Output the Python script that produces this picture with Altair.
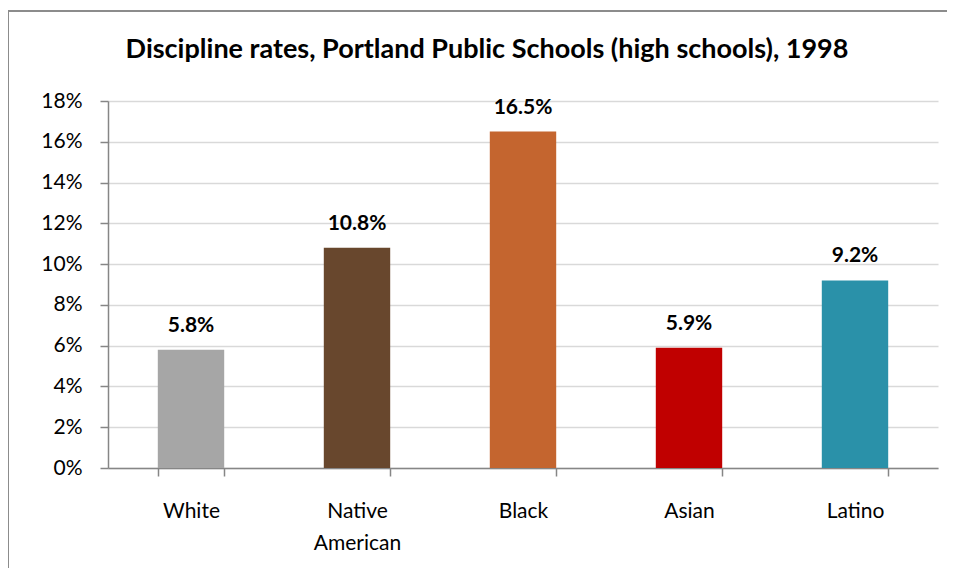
import altair as alt
import pandas as pd

groups = ["White", "Native American", "Black", "Asian", "Latino"]
rates = [0.058, 0.108, 0.165, 0.059, 0.092]
labels = ["5.8%", "10.8%", "16.5%", "5.9%", "9.2%"]
colors = ["#A6A6A6", "#68472D", "#C4652F", "#C00000", "#2A91A9"]
title_text = "Discipline rates, Portland Public Schools (high schools), 1998"

df = pd.DataFrame({"group": groups, "rate": rates, "label": labels})

FONT = "Lato"
W, H = 830, 367
PAD_R = 9

x = alt.X(
    "group:N",
    sort=groups,
    title=None,
    scale=alt.Scale(paddingInner=0.6, paddingOuter=0.3),
    axis=alt.Axis(
        labelAngle=0,
        labelFont=FONT,
        labelFontSize=21,
        labelColor="#000000",
        labelPadding=24,
        labelLineHeight=32,
        labelExpr="datum.label == 'Native American' ? ['Native', 'American'] : datum.label",
        tickBand="extent",
        tickSize=8,
        tickColor="#868686",
        domainColor="#868686",
        domainWidth=1.5,
        tickWidth=1.5,
        grid=False,
    ),
)

y = alt.Y(
    "rate:Q",
    title=None,
    scale=alt.Scale(domain=[0, 0.18], nice=False),
    axis=alt.Axis(
        values=[0, 0.02, 0.04, 0.06, 0.08, 0.10, 0.12, 0.14, 0.16, 0.18],
        format=".0%",
        labelFont=FONT,
        labelFontSize=21,
        labelColor="#000000",
        labelPadding=18,
        tickSize=8,
        tickColor="#868686",
        domainColor="#868686",
        domainWidth=1.5,
        tickWidth=1.5,
        gridColor="#D9D9D9",
        gridWidth=1.5,
    ),
)

bars = alt.Chart(df).mark_bar().encode(
    x=x,
    y=y,
    color=alt.Color("group:N", sort=groups,
                    scale=alt.Scale(domain=groups, range=colors), legend=None),
)

text = alt.Chart(df).mark_text(
    font=FONT, fontSize=21, fontWeight="bold", color="#000000",
    baseline="bottom", dy=-14,
).encode(x=alt.X("group:N", sort=groups), y="rate:Q", text="label:N")

title = alt.Chart(pd.DataFrame({"t": [title_text]})).mark_text(
    font=FONT, fontSize=27, fontWeight="bold", color="#000000",
    align="center", baseline="middle",
).encode(x=alt.value(W / 2 - 36), y=alt.value(-51), text="t:N")

border = pd.DataFrame({"k": [0]})
top_border = alt.Chart(border).mark_rule(color="#8C8C8C", strokeWidth=2).encode(
    x=alt.value(-100), x2=alt.value(W + PAD_R), y=alt.value(-90)
)
left_border = alt.Chart(border).mark_rule(color="#8C8C8C", strokeWidth=2).encode(
    x=alt.value(-100), y=alt.value(-90), y2=alt.value(H + 105)
)

chart = alt.layer(bars, text, title, top_border, left_border).properties(
    width=W,
    height=H,
    autosize=alt.AutoSizeParams(type="none"),
    padding={"left": 100, "top": 93, "right": PAD_R, "bottom": 100},
    background="white",
).configure_view(stroke=None)

chart.save("out.html", embed_options={"renderer": "svg", "actions": False})
